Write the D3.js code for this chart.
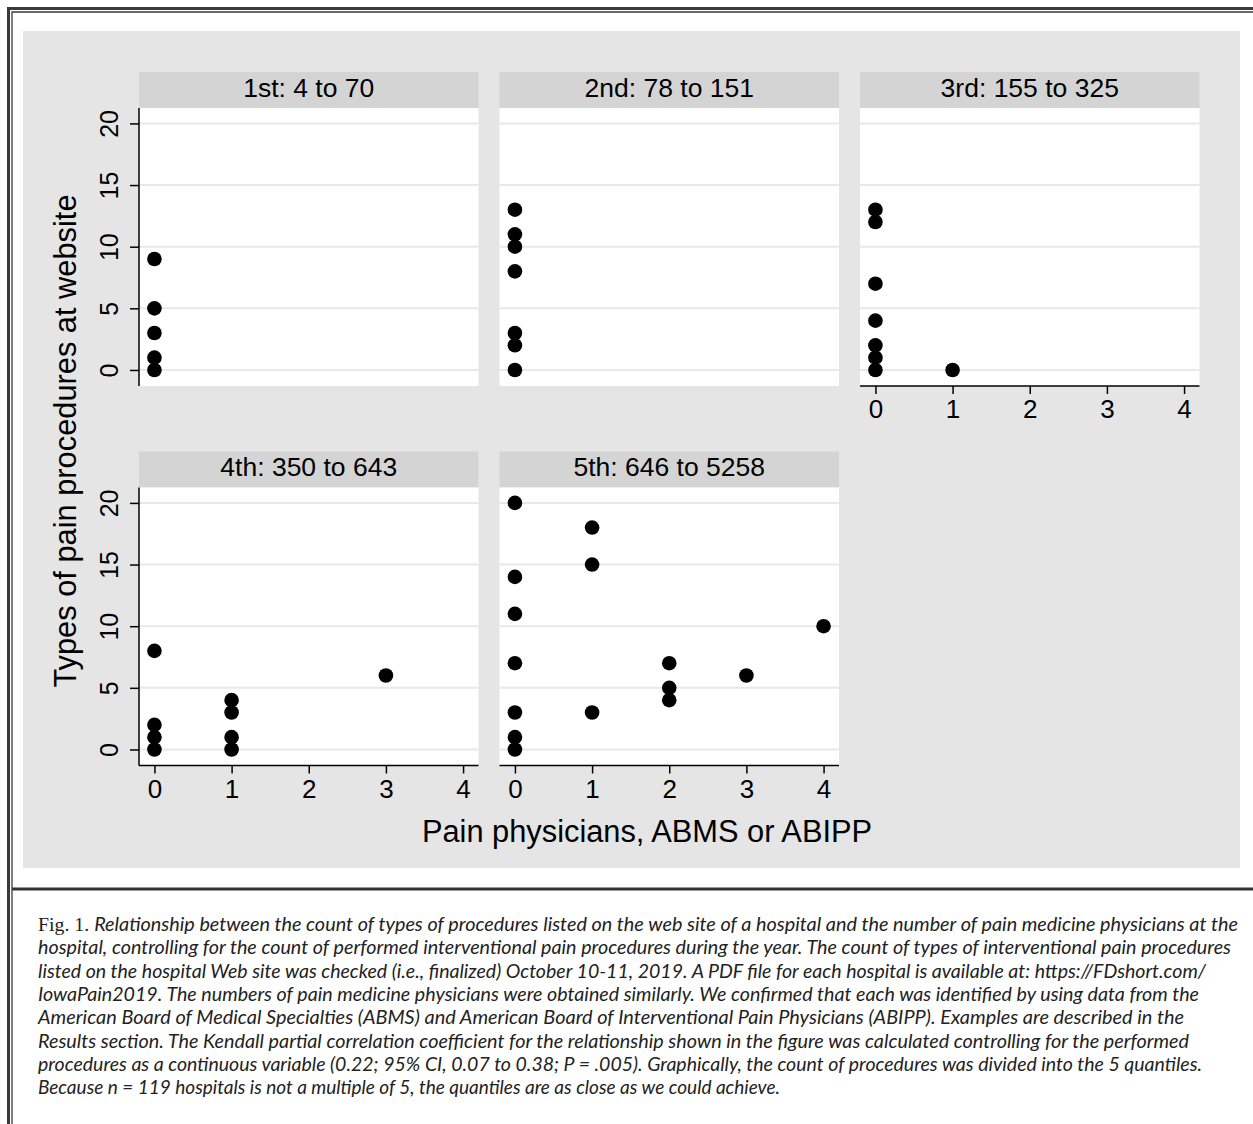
<!DOCTYPE html>
<html>
<head>
<meta charset="utf-8">
<script src="https://cdn.jsdelivr.net/npm/d3@7"></script>
<style>
  body { margin: 0; background: #fff; }
  svg { display: block; }
  .axis-txt { font-family: "Liberation Sans", Arial, sans-serif; fill: #000; }
  .caption { font-family: "Lato", "Open Sans", sans-serif; font-style: italic; font-size: 19px; fill: #222; }
  .caption .fig { font-family: "Liberation Serif", serif; font-style: normal; }
</style>
</head>
<body>
<svg id="chart" width="1253" height="1124"></svg>
<script>
// quantile panels: physicians (x) vs types of procedures at website (y)
const panelTitles = ["1st: 4 to 70", "2nd: 78 to 151", "3rd: 155 to 325", "4th: 350 to 643", "5th: 646 to 5258"];

const q1Physicians = [0, 0, 0, 0, 0];
const q1Procedures = [9, 5, 3, 1, 0];

const q2Physicians = [0, 0, 0, 0, 0, 0, 0];
const q2Procedures = [13, 11, 10, 8, 3, 2, 0];

const q3Physicians = [0, 0, 0, 0, 0, 0, 0, 1];
const q3Procedures = [13, 12, 7, 4, 2, 1, 0, 0];

const q4Physicians = [0, 0, 0, 0, 1, 1, 1, 1, 3];
const q4Procedures = [8, 2, 1, 0, 4, 3, 1, 0, 6];

const q5Physicians = [0, 0, 0, 0, 0, 0, 0, 1, 1, 1, 2, 2, 2, 3, 4];
const q5Procedures = [20, 14, 11, 7, 3, 1, 0, 18, 15, 3, 7, 5, 4, 6, 10];

const xTicks = [0, 1, 2, 3, 4];
const yTicks = [0, 5, 10, 15, 20];

const xTitle = "Pain physicians, ABMS or ABIPP";
const yTitle = "Types of pain procedures at website";

const captionLines = [
    "Relationship between the count of types of procedures listed on the web site of a hospital and the number of pain medicine physicians at the",
    "hospital, controlling for the count of performed interventional pain procedures during the year. The count of types of interventional pain procedures",
    "listed on the hospital Web site was checked (i.e., finalized) October 10-11, 2019. A PDF file for each hospital is available at: https://FDshort.com/",
    "IowaPain2019. The numbers of pain medicine physicians were obtained similarly. We confirmed that each was identified by using data from the",
    "American Board of Medical Specialties (ABMS) and American Board of Interventional Pain Physicians (ABIPP). Examples are described in the",
    "Results section. The Kendall partial correlation coefficient for the relationship shown in the figure was calculated controlling for the performed",
    "procedures as a continuous variable (0.22; 95% CI, 0.07 to 0.38; P = .005). Graphically, the count of procedures was divided into the 5 quantiles.",
    "Because n = 119 hospitals is not a multiple of 5, the quantiles are as close as we could achieve."
];
// right end of each caption line in the original typesetting
const captionEnds = [1238, 1231, 1206, 1199, 1184, 1189, 1202, null];

const panels = [
    { title: panelTitles[0], xs: q1Physicians, ys: q1Procedures, col: 0, row: 0 },
    { title: panelTitles[1], xs: q2Physicians, ys: q2Procedures, col: 1, row: 0 },
    { title: panelTitles[2], xs: q3Physicians, ys: q3Procedures, col: 2, row: 0 },
    { title: panelTitles[3], xs: q4Physicians, ys: q4Procedures, col: 0, row: 1 },
    { title: panelTitles[4], xs: q5Physicians, ys: q5Procedures, col: 1, row: 1 }
];

const svg = d3.select('#chart');

// layout
const colLeft = [139, 499.5, 860];
const panelW = 339.5;
const rowTop = [72, 451.5];
const stripH = 36;
const plotH = 278;

// frame: double rule on top/left, heavy rule above the caption
const frame = svg.append('g');
frame.append('path').attr('d', 'M8.5,1124 V8.5 H1253').attr('fill', 'none').attr('stroke', '#3a3a3a').attr('stroke-width', 3);
frame.append('path').attr('d', 'M12,1124 V12 H1253').attr('fill', 'none').attr('stroke', '#3a3a3a').attr('stroke-width', 1.3);
frame.append('line').attr('x1', 12).attr('x2', 1253).attr('y1', 889).attr('y2', 889)
    .attr('stroke', '#333').attr('stroke-width', 3);

// graph region background
svg.append('rect').attr('x', 23).attr('y', 31).attr('width', 1217).attr('height', 837).attr('fill', '#e5e5e5');

panels.forEach(p => {
    const left = colLeft[p.col];
    const top = rowTop[p.row];
    const plotTop = top + stripH;

    const x = d3.scaleLinear().domain([-0.2, 4.2]).range([left, left + panelW]);
    const y = d3.scaleLinear().domain([-1.3, 21.25]).range([plotTop + plotH, plotTop]);

    const g = svg.append('g');

    // strip
    g.append('rect').attr('x', left).attr('y', top).attr('width', panelW).attr('height', stripH).attr('fill', '#d4d4d4');
    g.append('text').attr('class', 'axis-txt')
        .attr('x', left + panelW / 2).attr('y', top + 24.5)
        .attr('text-anchor', 'middle').attr('font-size', 26.5)
        .text(p.title);

    // plot region
    g.append('rect').attr('x', left).attr('y', plotTop).attr('width', panelW).attr('height', plotH).attr('fill', '#fff');

    // gridlines
    g.selectAll('.grid').data(yTicks).enter().append('line')
        .attr('x1', left).attr('x2', left + panelW)
        .attr('y1', d => y(d)).attr('y2', d => y(d))
        .attr('stroke', '#e8e8e8').attr('stroke-width', 2);

    // y axis only on the left column
    if (p.col === 0) {
        const ya = g.append('g').attr('transform', `translate(${left},0)`)
            .call(d3.axisLeft(y).tickValues(yTicks).tickFormat(d3.format('d')).tickSize(9).tickSizeOuter(0));
        ya.select('.domain').attr('stroke', '#000').attr('stroke-width', 1.5)
            .attr('d', `M0,${plotTop + plotH}V${plotTop}`);
        ya.selectAll('.tick line').attr('stroke', '#000').attr('stroke-width', 1.5);
        ya.selectAll('.tick text').attr('class', 'axis-txt')
            .attr('font-size', 25).attr('text-anchor', 'middle')
            .attr('transform', 'rotate(-90)').attr('x', 0).attr('y', -21).attr('dy', 0);
    }

    // x axis on panels without a panel below
    if (p.row === 1 || p.col === 2) {
        const xa = g.append('g').attr('transform', `translate(0,${plotTop + plotH})`)
            .call(d3.axisBottom(x).tickValues(xTicks).tickFormat(d3.format('d')).tickSize(8).tickSizeOuter(0));
        xa.select('.domain').attr('stroke', '#000').attr('stroke-width', 1.5)
            .attr('d', `M${left},0H${left + panelW}`);
        xa.selectAll('.tick line').attr('stroke', '#000').attr('stroke-width', 1.5);
        xa.selectAll('.tick text').attr('class', 'axis-txt')
            .attr('font-size', 26).attr('y', 32).attr('dy', 0);
    }

    // markers
    g.selectAll('.pt').data(p.xs.map((v, i) => [v, p.ys[i]])).enter().append('circle')
        .attr('cx', d => x(d[0])).attr('cy', d => y(d[1]))
        .attr('r', 7.3).attr('fill', '#000');
});

// axis titles
svg.append('text').attr('class', 'axis-txt')
    .attr('x', 647).attr('y', 842).attr('text-anchor', 'middle').attr('font-size', 30.8)
    .text(xTitle);
svg.append('text').attr('class', 'axis-txt')
    .attr('transform', 'translate(76,441) rotate(-90)').attr('text-anchor', 'middle').attr('font-size', 30.8)
    .text(yTitle);

// caption
const cap = svg.append('g').attr('class', 'caption');
captionLines.forEach((line, i) => {
    const t = cap.append('text').attr('x', 38).attr('y', 931 + i * 23.3);
    if (i === 0) {
        t.append('tspan').attr('class', 'fig').text('Fig. 1. ');
    }
    t.append('tspan').text(line);
    if (captionEnds[i]) {
        t.attr('textLength', captionEnds[i] - 38).attr('lengthAdjust', 'spacingAndGlyphs');
    }
});
</script>
</body>
</html>
